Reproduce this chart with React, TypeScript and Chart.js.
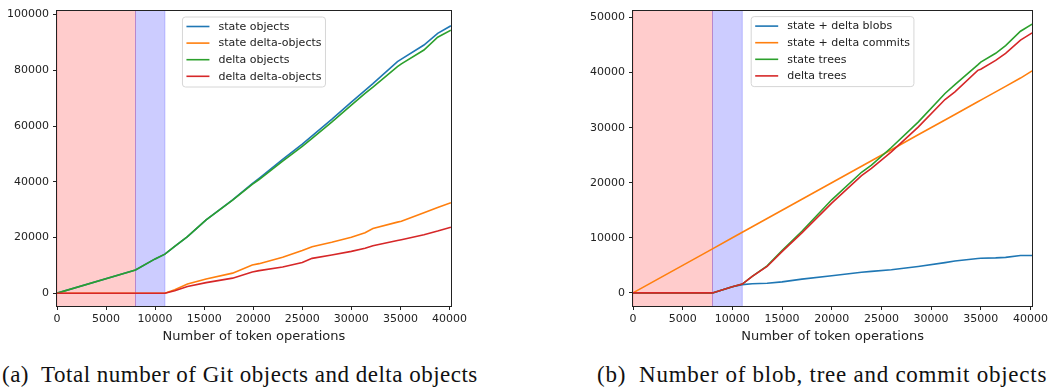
import React, { useEffect, useRef } from "react";
import { Chart, registerables } from "chart.js";

Chart.register(...registerables);

// ---------- Data: chart (a) ----------
const opsA = [0, 8000, 10000, 11000, 12000, 13300, 15200, 17900, 19900, 20600, 23000, 25000, 26000, 28000, 30000, 31400, 32200, 34700, 35100, 37400, 38800, 40150];
const stateObjects = [0, 8300, 12300, 14000, 16800, 20300, 26300, 33500, 39300, 41200, 48000, 53500, 56500, 62400, 68600, 72800, 75200, 83100, 84000, 89100, 93300, 96000];
const stateDeltaObjects = [0, 0, 0, 0, 1200, 3300, 5100, 7200, 10100, 10600, 12900, 15300, 16700, 18300, 20100, 21700, 23200, 25500, 25800, 28900, 30800, 32500];
const deltaObjects = [0, 8300, 12300, 14000, 16800, 20300, 26300, 33400, 39100, 40800, 47400, 52700, 55600, 61400, 67500, 71700, 74000, 81300, 82300, 87300, 91900, 94400];
const deltaDeltaObjects = [0, 0, 0, 0, 900, 2400, 3800, 5400, 7600, 8100, 9400, 11000, 12500, 13700, 15000, 16100, 17000, 18900, 19200, 21000, 22300, 23700];
const labelsA = ["state objects", "state delta-objects", "delta objects", "delta delta-objects"];

// ---------- Data: chart (b) ----------
const opsB = [0, 8000, 10000, 11000, 12000, 13500, 15000, 17000, 20000, 23000, 24000, 26000, 28700, 31400, 32400, 34700, 35000, 36500, 37500, 39000, 40170];
const blobs = [0, 0, 1100, 1500, 1650, 1750, 2000, 2500, 3100, 3750, 3900, 4200, 4800, 5500, 5800, 6250, 6300, 6350, 6450, 6800, 6800];
const commits = [0, 8000, 10000, 11000, 12000, 13500, 15000, 17000, 20000, 23000, 24000, 26000, 28700, 31400, 32400, 34700, 35000, 36500, 37500, 39000, 40300];
const stateTrees = [0, 0, 1100, 1600, 3000, 4900, 7700, 11200, 16900, 21900, 23200, 26400, 31000, 36200, 37800, 41400, 41900, 43500, 44900, 47500, 48800];
const deltaTrees = [0, 0, 1100, 1600, 3000, 4800, 7500, 10900, 16300, 21300, 22600, 25600, 30100, 35100, 36500, 40400, 40600, 42200, 43500, 45900, 47200];
const labelsB = ["state + delta blobs", "state + delta commits", "state trees", "delta trees"];

// ---------- Phases and ticks ----------
const spanStarts = [0, 8000];
const spanEnds = [8000, 11000];
const xTicks = [0, 5000, 10000, 15000, 20000, 25000, 30000, 35000, 40000];
const yTicksA = [0, 20000, 40000, 60000, 80000, 100000];
const yTicksB = [0, 10000, 20000, 30000, 40000, 50000];
const xTitle = "Number of token operations";
const captionA = "(a)\u00a0 Total number of Git objects and delta objects";
const captionB = "(b)\u00a0 Number of blob, tree and commit objects";

const COLORS = ["#1f77b4", "#ff7f0e", "#2ca02c", "#d62728"];
const SPAN_COLORS = ["rgba(255,0,0,0.2)", "rgba(0,0,255,0.2)"];
const FONT = '"DejaVu Sans", sans-serif';
const TEXT = "#222";

const mplPlugin = {
  id: "mpl",
  beforeDatasetsDraw(chart: any) {
    const { ctx, chartArea: a, scales } = chart;
    const x = scales.x;
    ctx.save();
    ctx.beginPath();
    ctx.rect(a.left, a.top, a.right - a.left, a.bottom - a.top);
    ctx.clip();
    spanStarts.forEach((s, i) => {
      const x0 = x.getPixelForValue(s);
      const x1 = x.getPixelForValue(spanEnds[i]);
      ctx.fillStyle = SPAN_COLORS[i];
      ctx.fillRect(x0, a.top, x1 - x0, a.bottom - a.top);
      ctx.strokeStyle = SPAN_COLORS[i];
      ctx.lineWidth = 1;
      ctx.strokeRect(x0, a.top - 2, x1 - x0, a.bottom - a.top + 4);
    });
    ctx.restore();
  },
  afterDatasetsDraw(chart: any) {
    const { ctx, chartArea: a } = chart;
    const ds = chart.data.datasets;
    ctx.save();
    ctx.font = "11px " + FONT;
    const maxW = Math.max(...ds.map((d: any) => ctx.measureText(d.label).width));
    const lineLen = 23, gap = 9, padX = 4, rowH = 16.6;
    const w = padX + lineLen + gap + maxW + padX;
    const h = 70;
    const x0 = (a.left + a.right) / 2 - w / 2;
    const y0 = a.top + 6;
    ctx.beginPath();
    (ctx as any).roundRect(x0, y0, w, h, 3);
    ctx.fillStyle = "rgba(255,255,255,0.8)";
    ctx.fill();
    ctx.strokeStyle = "#d6d6d6";
    ctx.lineWidth = 1;
    ctx.stroke();
    ds.forEach((d: any, i: number) => {
      const cy = y0 + 9.5 + i * rowH;
      ctx.beginPath();
      ctx.moveTo(x0 + padX, cy);
      ctx.lineTo(x0 + padX + lineLen, cy);
      ctx.strokeStyle = d.borderColor;
      ctx.lineWidth = 1.6;
      ctx.stroke();
      ctx.fillStyle = TEXT;
      ctx.textBaseline = "middle";
      ctx.textAlign = "left";
      ctx.fillText(d.label, x0 + padX + lineLen + gap, cy + 0.5);
    });
    ctx.restore();
  },
  afterDraw(chart: any) {
    const { ctx, chartArea: a } = chart;
    ctx.save();
    ctx.strokeStyle = TEXT;
    ctx.lineWidth = 1;
    ctx.strokeRect(Math.round(a.left) - 0.5, Math.round(a.top) - 0.5, Math.round(a.right - a.left) + 1, Math.round(a.bottom - a.top) + 1);
    ctx.restore();
  },
};

function buildConfig(opts: {
  ops: number[];
  series: number[][];
  labels: string[];
  yMin: number;
  yMax: number;
  yTicks: number[];
  xMax: number;
  yAxisWidth: number;
  padRight: number;
  padTop: number;
  xAxisHeight: number;
}) {
  const datasets = opts.series.map((s, i) => ({
    label: opts.labels[i],
    data: s.map((v, j) => ({ x: opts.ops[j], y: v })),
    borderColor: COLORS[i],
    backgroundColor: COLORS[i],
    borderWidth: 1.6,
    pointRadius: 0,
    tension: 0,
    fill: false,
    order: opts.series.length - i,
  }));
  const tickFont = { family: FONT, size: 11 };
  return {
    type: "line" as const,
    data: { datasets },
    options: {
      animation: false as const,
      responsive: false,
      devicePixelRatio: 1,
      layout: { padding: { left: 0, right: opts.padRight, top: opts.padTop, bottom: 0 } },
      plugins: { legend: { display: false }, tooltip: { enabled: false } },
      scales: {
        x: {
          type: "linear" as const,
          min: 0,
          max: opts.xMax,
          afterBuildTicks: (axis: any) => {
            axis.ticks = xTicks.map((v) => ({ value: v }));
          },
          afterFit: (axis: any) => {
            axis.height = opts.xAxisHeight;
          },
          grid: { drawOnChartArea: false, drawTicks: true, tickLength: 4, color: TEXT, tickColor: TEXT },
          border: { display: false },
          ticks: { font: tickFont, color: TEXT, padding: 3, maxRotation: 0, autoSkip: false, callback: (v: any) => String(v) },
          title: { display: true, text: xTitle, font: { family: FONT, size: 13 }, color: TEXT, padding: { top: 0, bottom: 6 } },
        },
        y: {
          type: "linear" as const,
          min: opts.yMin,
          max: opts.yMax,
          afterBuildTicks: (axis: any) => {
            axis.ticks = opts.yTicks.map((v) => ({ value: v }));
          },
          afterFit: (axis: any) => {
            axis.width = opts.yAxisWidth;
          },
          grid: { drawOnChartArea: false, drawTicks: true, tickLength: 4, color: TEXT, tickColor: TEXT },
          border: { display: false },
          ticks: { font: tickFont, color: TEXT, padding: 4, autoSkip: false, callback: (v: any) => String(v) },
        },
      },
    },
    plugins: [mplPlugin],
  };
}

function ChartCanvas({ config, left, width, height }: { config: () => any; left: number; width: number; height: number }) {
  const ref = useRef<HTMLCanvasElement>(null);
  useEffect(() => {
    const chart = new Chart(ref.current as HTMLCanvasElement, config());
    return () => chart.destroy();
  }, []);
  return (
    <canvas
      ref={ref}
      width={width}
      height={height}
      style={{ position: "absolute", left, top: 0, width, height }}
    />
  );
}

const captionStyle: React.CSSProperties = {
  position: "absolute",
  top: 361,
  fontFamily: '"Liberation Serif", "DejaVu Serif", serif',
  fontSize: 23,
  lineHeight: "27px",
  whiteSpace: "nowrap",
  color: "#111",
};

export default function App() {
  const cfgA = () =>
    buildConfig({
      ops: opsA,
      series: [stateObjects, stateDeltaObjects, deltaObjects, deltaDeltaObjects],
      labels: labelsA,
      yMin: -4600,
      yMax: 101300,
      yTicks: yTicksA,
      xMax: 40150,
      yAxisWidth: 57,
      padRight: 17,
      padTop: 11,
      xAxisHeight: 44,
    });
  const cfgB = () =>
    buildConfig({
      ops: opsB,
      series: [blobs, commits, stateTrees, deltaTrees],
      labels: labelsB,
      yMin: -2380,
      yMax: 51250,
      yTicks: yTicksB,
      xMax: 40170,
      yAxisWidth: 73,
      padRight: 16,
      padTop: 6,
      xAxisHeight: 44,
    });
  return (
    <div style={{ position: "absolute", left: 0, top: 0, width: 1051, height: 389, background: "#fff", overflow: "hidden" }}>
      <ChartCanvas config={cfgA} left={0} width={470} height={350} />
      <ChartCanvas config={cfgB} left={560} width={491} height={350} />
      <div style={{ ...captionStyle, left: 2, letterSpacing: "0.5px" }}>{captionA}</div>
      <div style={{ ...captionStyle, left: 597, letterSpacing: "0.75px" }}>{captionB}</div>
    </div>
  );
}
